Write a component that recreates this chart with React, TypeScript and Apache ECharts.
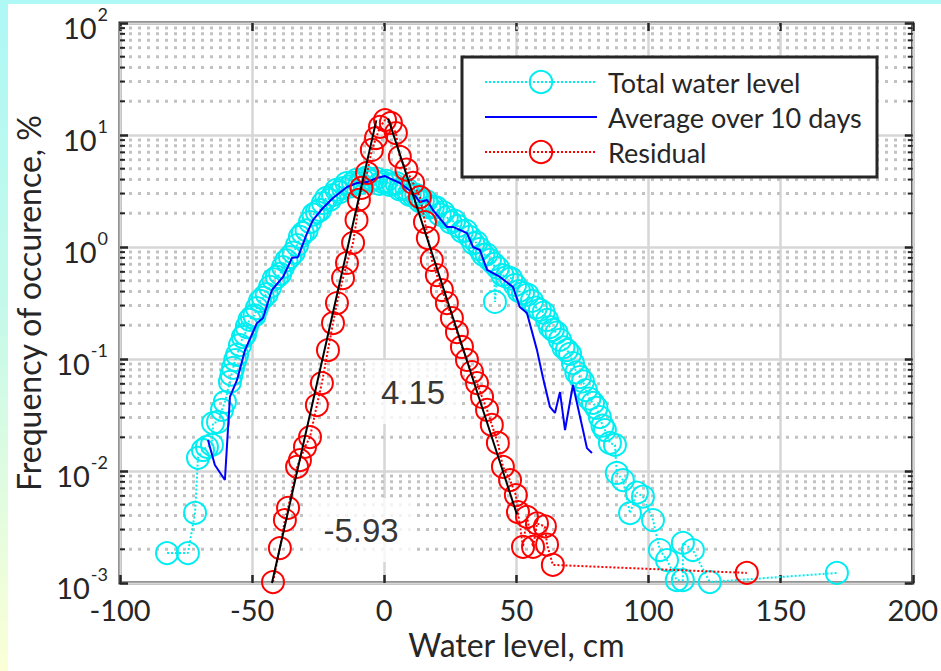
import React, { useEffect, useRef } from 'react';
import * as echarts from 'echarts';

// ---------- data ----------
const totalX = [
  -82.2, -74.3, -71.6, -70.5, -68.6, -67.1, -65.2, -64.8, -62.9, -61.4, -60.3,
  -58.4, -57.8, -57.2, -56.4, -55.7, -54.6, -53.5, -52.7, -52.0, -51.0, -50.1, -49.1, -48.2, -47.0, -45.9, -44.5,
  -43.2, -41.9, -40.6, -39.4, -38.3, -37.0, -35.7, -34.3, -33.0, -31.9, -30.8, -29.4, -28.1, -26.8, -25.5, -24.3,
  -23.2, -21.9, -20.6, -19.4, -18.1, -16.8, -15.6, -14.3, -13.0, -11.8, -10.6, -9.3, -8.1, -6.8, -5.6, -4.3,
  -3.0, -1.8, -0.5, 0.8, 2.0, 3.3, 4.6, 5.8, 7.1, 8.4, 9.6, 10.9, 12.1, 13.4, 14.6, 15.9, 17.1, 18.4, 19.7, 21.0,
  22.4, 23.7, 25.1, 26.5, 27.9, 29.4, 30.9, 32.4, 33.7, 34.9, 36.2, 37.5, 38.7, 40.0, 41.5, 41.9, 43.0, 44.7,
  46.4, 48.0, 49.5, 51.0, 52.5, 54.2, 55.9, 57.4, 58.9, 60.3, 61.6, 62.7, 63.8, 65.2, 66.5, 67.8, 69.1, 70.3,
  71.4, 72.7, 74.0, 75.2, 76.3, 77.6, 79.0, 80.3, 81.6, 82.6, 83.5, 85.4, 87.3, 88.0, 90.3, 93.0, 95.6, 97.9,
  101.7, 104.3, 107.0, 110.7, 113.0, 113.0, 116.8, 123.2, 171.3,
];
const totalY = [
  0.00185, 0.00185, 0.00422, 0.0131, 0.0154, 0.0164, 0.0171, 0.0268, 0.0274, 0.0351, 0.0413,
  0.0624, 0.0724, 0.0832, 0.0977, 0.109, 0.133, 0.157, 0.166, 0.193, 0.224, 0.237, 0.245, 0.285, 0.331, 0.351, 0.380,
  0.44, 0.513, 0.54, 0.575, 0.662, 0.759, 0.814, 0.891, 1.04, 1.23, 1.33, 1.41, 1.67, 1.95, 2.05, 2.14,
  2.47, 2.75, 2.63, 2.91, 3.24, 3.09, 3.36, 3.72, 3.47, 3.73, 3.98, 3.72, 3.97, 4.17, 3.89, 3.97,
  4.07, 3.67, 3.80, 3.89, 3.59, 3.65, 3.72, 3.27, 3.30, 3.31, 2.92, 2.91, 2.92, 2.57, 2.58, 2.57, 2.26, 2.28, 2.26, 1.95,
  2.04, 1.85, 1.66, 1.72, 1.54, 1.38, 1.40, 1.23, 1.08, 1.10, 0.96, 0.851, 0.861, 0.766, 0.708, 0.323, 0.65, 0.562,
  0.54, 0.525, 0.458, 0.403, 0.388, 0.376, 0.33, 0.288, 0.274, 0.260, 0.223, 0.193, 0.182, 0.172, 0.148, 0.127, 0.120, 0.111,
  0.092, 0.0759, 0.069, 0.0631, 0.0528, 0.0442, 0.0405, 0.0367, 0.0303, 0.0254, 0.0232, 0.0178, 0.0171, 0.0096, 0.0083, 0.0042, 0.0064, 0.0059,
  0.00365, 0.00197, 0.0016, 0.00106, 0.00106, 0.00228, 0.00197, 0.00102, 0.00123,
];

const avgX = [-66.7, -64.1, -60.3, -58.4, -55.7, -52.7, -48.2, -45.9, -42.5, -38.3, -34.9, -32.7, -29.2, -27.0, -23.2, -19.4, -14.1, -10.3, -6.5, -2.8, 0.3, 3.3, 5.9, 10.9, 13.5, 16.2, 18.4, 23.7, 26.0, 31.3, 33.6, 36.2, 38.9, 43.8, 48.7, 51.3, 54.0, 57.8, 60.0, 62.7, 64.6, 66.5, 68.4, 71.4, 75.2, 76.7, 78.6];
const avgY = [0.0189, 0.0113, 0.0083, 0.0458, 0.065, 0.120, 0.209, 0.232, 0.413, 0.54, 0.80, 0.81, 1.33, 1.74, 2.23, 2.74, 3.43, 3.73, 3.80, 4.13, 4.3, 3.97, 3.73, 3.03, 2.52, 2.63, 2.14, 1.51, 1.51, 1.33, 1.0, 0.94, 0.624, 0.54, 0.44, 0.291, 0.257, 0.120, 0.069, 0.0373, 0.033, 0.0507, 0.0232, 0.0586, 0.0232, 0.016, 0.0145];

const resX = [-42.1, -39.5, -37.6, -36.4, -33.0, -31.9, -30.0, -28.1, -25.5, -23.6, -21.3, -19.4, -17.9, -15.6, -14.1, -11.8, -10.5, -9.6, -8.6, -6.5, -4.7, -3.1, -1.6, 0.3, 2.5, 4.4, 5.9, 8.4, 10.9, 13.5, 15.4, 16.5, 18.0, 19.9, 21.8, 23.7, 25.6, 27.5, 29.4, 31.3, 33.2, 35.1, 37.0, 38.9, 40.7, 43.0, 44.9, 47.6, 49.8, 50.6, 52.5, 54.0, 56.3, 57.8, 60.8, 61.6, 63.8, 137.2];
const resY = [0.00102, 0.00205, 0.00365, 0.00468, 0.0109, 0.0125, 0.0164, 0.0201, 0.0388, 0.061, 0.120, 0.209, 0.316, 0.528, 0.72, 1.09, 1.74, 2.63, 3.37, 4.58, 7.35, 9.4, 11.8, 13.6, 12.8, 10.4, 6.37, 4.9, 3.73, 2.79, 1.67, 1.20, 0.766, 0.562, 0.413, 0.316, 0.232, 0.174, 0.128, 0.098, 0.0765, 0.061, 0.0458, 0.0351, 0.0258, 0.0178, 0.0109, 0.0083, 0.0061, 0.0043, 0.0021, 0.0039, 0.0021, 0.0034, 0.0032, 0.0022, 0.00145, 0.00123];

// exponential fits (end points)
const fitLeftX = [-42.5, -3.0];
const fitLeftY = [0.001, 13.5];
const fitRightX = [1.5, 50.2];
const fitRightY = [14.0, 0.0041];

// annotation texts: [x, y, text]
const notes: [number, number, string][] = [
  [10.9, 0.0507, '4.15'],
  [-8.8, 0.00297, '-5.93'],
];

const minorTickValues = [
  0.002, 0.003, 0.004, 0.005, 0.006, 0.007, 0.008, 0.009,
  0.02, 0.03, 0.04, 0.05, 0.06, 0.07, 0.08, 0.09,
  0.2, 0.3, 0.4, 0.5, 0.6, 0.7, 0.8, 0.9,
  2, 3, 4, 5, 6, 7, 8, 9,
  20, 30, 40, 50, 60, 70, 80, 90,
];

const X_MIN = -100;
const X_MAX = 200;
const X_STEP = 50;
const Y_MIN = 0.001;
const Y_MAX = 100;

// ---------- style ----------
const FONT = 'Lato, "Noto Sans", sans-serif';
const TXT = '#262626';
const CYAN = '#00eef2';
const BLUE = '#0000ff';
const RED = '#ff0000';
const MAJOR_GRID = '#d6d6d6';
const MINOR_GRID = '#c2c2c2';

const zip = (xs: number[], ys: number[]) => xs.map((x, i) => [x, ys[i]]);

function buildOption(): any {
  const tickStyle = { color: TXT, width: 2.5 };
  const noLine = { show: false, onZero: false };
  return {
    animation: false,
    grid: {
      left: 120, top: 23, width: 793, height: 560,
      show: true, borderColor: TXT, borderWidth: 3, backgroundColor: '#fff',
    },
    legend: {
      data: [
        { name: 'Total water level' },
        { name: 'Average over 10 days', itemStyle: { opacity: 0 } },
        { name: 'Residual' },
      ],
      orient: 'vertical',
      left: 462, top: 57,
      padding: [10, 14, 10, 22],
      itemWidth: 112, itemHeight: 28, itemGap: 5,
      backgroundColor: '#fff', borderColor: TXT, borderWidth: 3, borderRadius: 0,
      textStyle: { fontSize: 27, fontFamily: FONT, color: TXT, lineHeight: 30, width: 255, padding: [0, 0, 0, 6] },
      selectedMode: false,
    },
    xAxis: [
      {
        type: 'value', min: X_MIN, max: X_MAX, interval: X_STEP, position: 'bottom',
        name: 'Water level, cm', nameLocation: 'middle', nameGap: 45,
        nameTextStyle: { fontSize: 32, fontFamily: FONT, color: TXT },
        axisLine: noLine,
        axisTick: { inside: true, length: 8, lineStyle: tickStyle },
        axisLabel: { fontSize: 29, fontFamily: FONT, color: TXT, margin: 12 },
        splitLine: { show: true, lineStyle: { color: MAJOR_GRID, width: 2.5 } },
      },
      {
        type: 'value', min: X_MIN, max: X_MAX, interval: X_STEP, position: 'top',
        axisLine: noLine,
        axisTick: { inside: true, length: 8, lineStyle: tickStyle },
        axisLabel: { show: false },
        splitLine: { show: false },
      },
    ],
    yAxis: [
      {
        type: 'log', logBase: 10, min: Y_MIN, max: Y_MAX, position: 'left',
        name: 'Frequency of occurence, %', nameLocation: 'middle', nameGap: 76, nameRotate: 90,
        nameTextStyle: { fontSize: 32, fontFamily: FONT, color: TXT },
        axisLine: noLine,
        axisTick: { inside: true, length: 8, lineStyle: tickStyle },
        axisLabel: {
          margin: 12,
          formatter: (v: number) => `{b|10}{s|${Math.round(Math.log10(v))}}`,
          rich: {
            b: { fontSize: 29, fontFamily: FONT, color: TXT, lineHeight: 28, verticalAlign: 'bottom' },
            s: { fontSize: 18, fontFamily: FONT, color: TXT, lineHeight: 37, verticalAlign: 'top', padding: [0, 0, 5, 1] },
          },
        },
        splitLine: { show: true, lineStyle: { color: MAJOR_GRID, width: 2.5 } },
      },
      {
        type: 'log', logBase: 10, min: Y_MIN, max: Y_MAX, position: 'right',
        axisLine: noLine,
        axisTick: { inside: true, length: 8, lineStyle: tickStyle },
        axisLabel: { show: false },
        splitLine: { show: false },
      },
    ],
    series: [
      {
        type: 'custom', silent: true, z: 1,
        data: minorTickValues.map((v) => [v]),
        encode: { y: 0 },
        renderItem: (_p: any, api: any) => {
          const v = api.value(0);
          const a = api.coord([X_MIN, v]);
          const b = api.coord([X_MAX, v]);
          return {
            type: 'group',
            children: [
              { type: 'line', shape: { x1: a[0], y1: a[1], x2: b[0], y2: b[1] }, style: { stroke: MINOR_GRID, lineWidth: 3, lineDash: [3, 6] } },
              { type: 'line', shape: { x1: a[0], y1: a[1], x2: a[0] + 5, y2: a[1] }, style: { stroke: TXT, lineWidth: 2 } },
              { type: 'line', shape: { x1: b[0] - 5, y1: b[1], x2: b[0], y2: b[1] }, style: { stroke: TXT, lineWidth: 2 } },
            ],
          };
        },
      },
      {
        type: 'scatter', silent: true, z: 2,
        symbolSize: 1, itemStyle: { color: 'rgba(0,0,0,0)' },
        data: notes.map((n) => ({ value: [n[0], n[1]], label: { formatter: n[2] } })),
        label: {
          show: true, position: 'inside',
          fontSize: 33, fontFamily: '"Liberation Sans", Arial, sans-serif', color: '#000',
          backgroundColor: '#fff', padding: [14, 16], lineHeight: 36,
        },
      },
      {
        name: 'Total water level', type: 'line', z: 3,
        data: zip(totalX, totalY),
        symbol: 'circle', symbolSize: 22,
        itemStyle: { color: 'rgba(0,0,0,0)', borderColor: CYAN, borderWidth: 2 },
        lineStyle: { color: CYAN, width: 2, type: 'dotted' },
      },
      {
        name: 'Average over 10 days', type: 'line', z: 4,
        data: zip(avgX, avgY),
        symbol: 'none',
        itemStyle: { color: BLUE },
        lineStyle: { color: BLUE, width: 2 },
      },
      {
        name: 'Residual', type: 'line', z: 5,
        data: zip(resX, resY),
        symbol: 'circle', symbolSize: 22,
        itemStyle: { color: 'rgba(0,0,0,0)', borderColor: RED, borderWidth: 2 },
        lineStyle: { color: RED, width: 2, type: 'dotted' },
      },
      {
        name: 'fitLeft', type: 'line', z: 6, symbol: 'none',
        data: zip(fitLeftX, fitLeftY),
        lineStyle: { color: '#000', width: 2 },
      },
      {
        name: 'fitRight', type: 'line', z: 6, symbol: 'none',
        data: zip(fitRightX, fitRightY),
        lineStyle: { color: '#000', width: 2 },
      },
    ],
  };
}

export default function App() {
  const ref = useRef<HTMLDivElement>(null);
  useEffect(() => {
    if (!ref.current) return;
    const chart = echarts.init(ref.current, null, { renderer: 'svg' });
    chart.setOption(buildOption());
    return () => chart.dispose();
  }, []);
  return (
    <div
      style={{
        position: 'fixed', left: 0, top: 0, width: 941, height: 671, overflow: 'hidden',
        background: 'linear-gradient(to bottom, #aef8f6 0%, #c4f9ea 45%, #fbffd6 100%)',
      }}
    >
      <div style={{ position: 'absolute', left: 8, top: 4, right: 0, bottom: 0, background: '#fff' }} />
      <div ref={ref} style={{ position: 'absolute', left: 0, top: 0, width: 941, height: 671 }} />
    </div>
  );
}
